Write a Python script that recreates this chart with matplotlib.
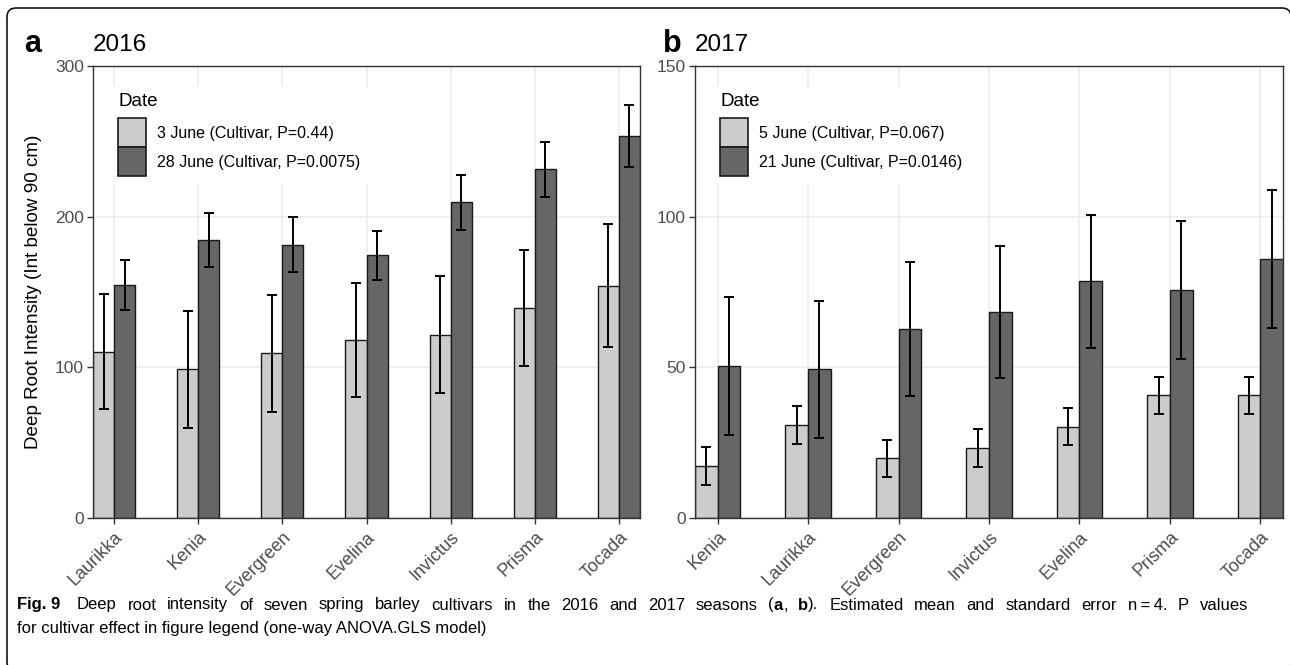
import matplotlib
matplotlib.use("Agg")
import matplotlib.pyplot as plt
from matplotlib.patches import Patch, FancyBboxPatch
from matplotlib.transforms import IdentityTransform
import numpy as np

plt.rcParams['font.family'] = ['Liberation Sans', 'DejaVu Sans']

# 2016 season
cultivars_2016 = ["Laurikka", "Kenia", "Evergreen", "Evelina", "Invictus", "Prisma", "Tocada"]
early_2016 = [110.4, 98.7, 109.3, 117.9, 121.7, 139.5, 154.3]
early_se_2016 = [38.0, 39.0, 39.0, 37.8, 39.0, 38.5, 41.0]
late_2016 = [154.6, 184.6, 181.5, 174.4, 209.5, 231.4, 253.4]
late_se_2016 = [16.4, 18.0, 18.2, 16.2, 18.2, 18.3, 20.5]
labels_2016 = ["3 June (Cultivar, P=0.44)", "28 June (Cultivar, P=0.0075)"]

# 2017 season
cultivars_2017 = ["Kenia", "Laurikka", "Evergreen", "Invictus", "Evelina", "Prisma", "Tocada"]
early_2017 = [17.3, 30.9, 19.8, 23.2, 30.3, 40.7, 40.7]
early_se_2017 = [6.2, 6.2, 6.2, 6.2, 6.2, 6.2, 6.2]
late_2017 = [50.4, 49.4, 62.6, 68.4, 78.5, 75.7, 86.0]
late_se_2017 = [22.8, 22.7, 22.2, 21.9, 22.2, 22.9, 23.0]
labels_2017 = ["5 June (Cultivar, P=0.067)", "21 June (Cultivar, P=0.0146)"]

LIGHT = "#CCCCCC"
DARK = "#666666"
EDGE = "#1a1a1a"
GRID = "#EBEBEB"
FRAME = "#333333"
TICKTXT = "#4D4D4D"

W, H = 1290, 665
fig = plt.figure(figsize=(W / 100, H / 100), dpi=100)


def panel(rect, cats, e, ese, l, lse, labels, ymax, yticks, year, tag, tag_x, ylabel=None):
    ax = fig.add_axes(rect)
    x = np.arange(len(cats))
    bw = 0.25
    ax.bar(x - bw / 2, e, width=bw, color=LIGHT, edgecolor=EDGE, linewidth=1.0, zorder=3)
    ax.bar(x + bw / 2, l, width=bw, color=DARK, edgecolor=EDGE, linewidth=1.0, zorder=3)
    ax.errorbar(x - bw / 2, e, yerr=ese, fmt="none", ecolor="black", elinewidth=1.4,
                capsize=3.3, capthick=1.4, zorder=4)
    ax.errorbar(x + bw / 2, l, yerr=lse, fmt="none", ecolor="black", elinewidth=1.4,
                capsize=3.3, capthick=1.4, zorder=4)
    ax.set_xlim(-0.25, len(cats) - 0.75)
    ax.set_ylim(0, ymax)
    ax.set_yticks(yticks)
    ax.set_xticks(x)
    ax.set_xticklabels(cats, rotation=45, ha="right", va="top", rotation_mode="anchor")
    ax.tick_params(axis="both", colors=FRAME, labelcolor=TICKTXT, length=4.5, width=1.0,
                   direction="out")
    ax.tick_params(axis="x", labelsize=13, pad=3)
    ax.tick_params(axis="y", labelsize=12.5, pad=2)
    ax.grid(True, color=GRID, linewidth=1.1, zorder=0)
    ax.set_axisbelow(True)
    for s in ax.spines.values():
        s.set_color(FRAME)
        s.set_linewidth(1.0)
        s.set_zorder(5)

    # legend placed in pixel offsets from the panel's top-left corner
    aw = rect[2] * W
    ah = rect[3] * H
    fs = 11.5
    fpx = fs * 100 / 72
    bpad = 0.4
    key_w_pt = 28 * 72 / 100
    key_h_pt = 29 * 72 / 100
    # legend handle height = fs*h - 0.35*fs*(h - 0.7)
    hh = (key_h_pt / fs - 0.245) / 0.65
    handles = [Patch(facecolor=LIGHT, edgecolor=EDGE, linewidth=1.2),
               Patch(facecolor=DARK, edgecolor=EDGE, linewidth=1.2)]
    leg = ax.legend(handles, labels, title="Date", loc="upper left",
                    bbox_to_anchor=((25 - bpad * fpx) / aw, 1 - (27 - bpad * fpx) / ah),
                    borderaxespad=0, fontsize=fs, title_fontsize=13.5,
                    frameon=True, fancybox=False, framealpha=1.0, edgecolor="white",
                    handlelength=key_w_pt / fs, handleheight=hh, labelspacing=0.0,
                    handletextpad=11 / fpx, borderpad=bpad, alignment="left")
    leg._legend_box.sep = 6
    leg.set_zorder(6)
    ax.set_title(year, loc="left", fontsize=17.5, pad=11)
    fig.text(tag_x / W, 1 - 44 / H, tag, fontsize=22, fontweight="bold", va="center",
             ha="left")
    if ylabel:
        ax.set_ylabel(ylabel, fontsize=13.6, labelpad=9)
    return ax


panel([93 / W, 1 - 518 / H, (640 - 93) / W, (518 - 66) / H], cultivars_2016,
      early_2016, early_se_2016, late_2016, late_se_2016, labels_2016,
      300, [0, 100, 200, 300], "2016", "a", 24,
      ylabel="Deep Root Intensity (Int below 90 cm)")
panel([695 / W, 1 - 518 / H, (1283 - 695) / W, (518 - 66) / H], cultivars_2017,
      early_2017, early_se_2017, late_2017, late_se_2017, labels_2017,
      150, [0, 50, 100, 150], "2017", "b", 663)

# caption: first line justified across the text block, second line set naturally
CAP_FS = 12
CAP_LEFT, CAP_RIGHT = 17, 1248
y1 = 1 - 605 / H
y2 = 1 - 628 / H
renderer = fig.canvas.get_renderer()


def run_width(pieces):
    w = 0.0
    for txt, bold in pieces:
        t = fig.text(0, 0, txt, fontsize=CAP_FS, fontweight="bold" if bold else "normal")
        w += t.get_window_extent(renderer).width
        t.remove()
    return w


def draw_run(x, y, pieces):
    for txt, bold in pieces:
        t = fig.text(x / W, y, txt, fontsize=CAP_FS, va="center", ha="left",
                     fontweight="bold" if bold else "normal")
        x += t.get_window_extent(renderer).width
    return x


line1 = [[("Fig. 9", True)]]
for word in ("Deep root intensity of seven spring barley cultivars in the 2016 and 2017 "
             "seasons").split():
    line1.append([(word, False)])
line1.append([("(", False), ("a", True), (",", False)])
line1.append([("b", True), (").", False)])
for word in "Estimated mean and standard error n\u2009=\u20094. P values".split(" "):
    line1.append([(word, False)])

widths = [run_width(tok) for tok in line1]
extra = 6.0  # wider gap after the figure number
gap = (CAP_RIGHT - CAP_LEFT - sum(widths) - extra) / (len(line1) - 1)
x = CAP_LEFT
for i, tok in enumerate(line1):
    draw_run(x, y1, tok)
    x += widths[i] + gap + (extra if i == 0 else 0)

fig.text(CAP_LEFT / W, y2, "for cultivar effect in figure legend (one-way ANOVA.GLS model)",
         fontsize=CAP_FS, va="center", ha="left")

# rounded frame around the whole figure
frame = FancyBboxPatch((7, -6), 1284, 665 - 8 + 6,
                       boxstyle="round,pad=0,rounding_size=9",
                       transform=IdentityTransform(), facecolor="none",
                       edgecolor="black", linewidth=1.1, clip_on=False)
fig.patches.append(frame)

fig.savefig("out.png", dpi=100)
